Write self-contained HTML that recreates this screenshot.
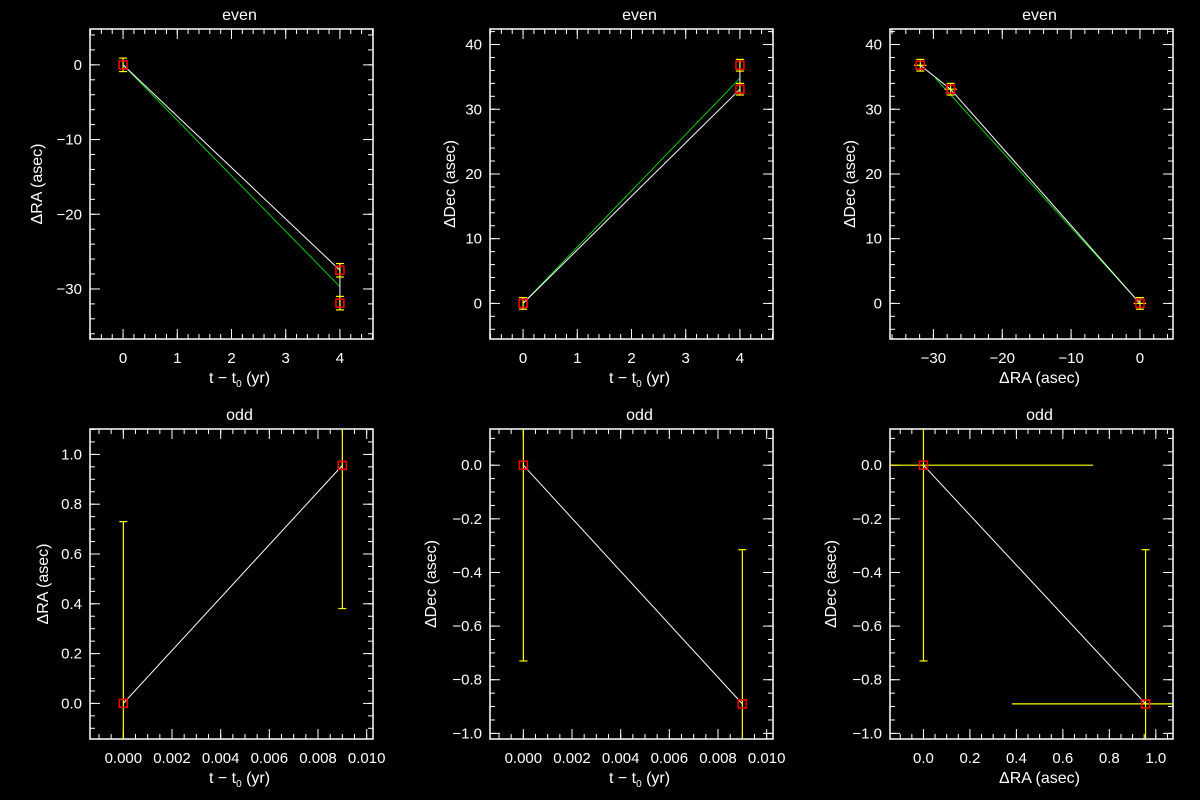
<!DOCTYPE html>
<html><head><meta charset="utf-8"><style>
html,body{margin:0;padding:0;background:#000;width:1200px;height:800px;overflow:hidden;}
svg{display:block;position:absolute;left:0;top:0;font-family:"Liberation Sans",sans-serif;}
text{fill:#fff;}
</style></head><body>
<svg id="c" width="1200" height="800"></svg>
<script>
// Panel data
const evenT = [0, 4, 4];
const evenRA = [0, -27.5, -31.9];
const evenDec = [0, 33.1, 36.8];
const evenErr = [0.9, 0.9, 0.9];
const evenFitEndRA = [-29.7];
const evenFitEndDec = [34.8];
const oddT = [0, 0.009];
const oddRA = [0, 0.956];
const oddDec = [0, -0.89];
const oddErrRA = [0.73, 0.575];
const oddErrDec = [0.73, 0.575];
const ticksTime = [0,1,2,3,4];
const ticksRA = [0,-10,-20,-30];
const ticksDec = [0,10,20,30,40];
const ticksRAx = [-30,-20,-10,0];
const ticksOddT = [0,0.002,0.004,0.006,0.008,0.010];
const ticksOddRA = [0,0.2,0.4,0.6,0.8,1.0];
const ticksOddDec = [0,-0.2,-0.4,-0.6,-0.8,-1.0];

const NS="http://www.w3.org/2000/svg";
const svg=document.getElementById('c');
function el(tag,attrs,parent){const e=document.createElementNS(NS,tag);for(const k in attrs)e.setAttribute(k,attrs[k]);(parent||svg).appendChild(e);return e;}

function panel(o){
  const g=el('g',{});
  
  
  const L=o.box[0],T=o.box[1],R=o.box[2],B=o.box[3];
  const sx=v=>L+(v-o.xr[0])/(o.xr[1]-o.xr[0])*(R-L);
  const sy=v=>B-(v-o.yr[0])/(o.yr[1]-o.yr[0])*(B-T);
  const clip='clip-'+o.name;
  const cp=el('clipPath',{id:clip},g);el('rect',{x:L,y:T,width:R-L,height:B-T},cp);
  const frame=el('rect',{x:L,y:T,width:R-L,height:B-T,fill:'none',stroke:'#fff','stroke-width':1.5},g);
  
  
  const eps=1e-9;
  for(let v=Math.ceil(o.xr[0]/o.xmin-eps)*o.xmin; v<=o.xr[1]+eps; v+=o.xmin){
    const x=sx(v);el('line',{x1:x,y1:B,x2:x,y2:B-5,stroke:'#fff'},g);el('line',{x1:x,y1:T,x2:x,y2:T+5,stroke:'#fff'},g);}
  for(let v=Math.ceil(o.yr[0]/o.ymin-eps)*o.ymin; v<=o.yr[1]+eps; v+=o.ymin){
    const y=sy(v);el('line',{x1:L,y1:y,x2:L+5,y2:y,stroke:'#fff'},g);el('line',{x1:R,y1:y,x2:R-5,y2:y,stroke:'#fff'},g);}
  o.xt.forEach(v=>{const x=sx(v);el('line',{x1:x,y1:B,x2:x,y2:B-10,stroke:'#fff'},g);el('line',{x1:x,y1:T,x2:x,y2:T+10,stroke:'#fff'},g);
    const t=el('text',{x:x,y:B+24,'text-anchor':'middle','font-size':15},g);t.textContent=o.xf(v).replace('-','\u2212');
    });
  o.yt.forEach(v=>{const y=sy(v);el('line',{x1:L,y1:y,x2:L+10,y2:y,stroke:'#fff'},g);el('line',{x1:R,y1:y,x2:R-10,y2:y,stroke:'#fff'},g);
    const t=el('text',{x:L-8,y:y+5,'text-anchor':'end','font-size':15},g);t.textContent=o.yf(v).replace('-','\u2212');
    });
  const tt=el('text',{x:(L+R)/2+8,y:T-9,'text-anchor':'middle','font-size':16},g);tt.textContent=o.title;
  
  const xt=el('text',{x:(L+R)/2+8,y:B+44,'text-anchor':'middle','font-size':16},g);xt.innerHTML=o.xlabel;
  
  const yx=o.ylx, yy=(T+B)/2;
  const yt=el('text',{x:yx,y:yy,'text-anchor':'middle','font-size':16,transform:`rotate(-90 ${yx} ${yy})`},g);yt.textContent=o.ylabel;
  
  const dg=el('g',{'clip-path':`url(#${clip})`},g);
  
  
  if(o.fit){const f=el('line',{x1:sx(o.fit[0]),y1:sy(o.fit[1]),x2:sx(o.fit[2]),y2:sy(o.fit[3]),stroke:'#00d000','stroke-width':1},dg);
    }
  const pts=o.xs.map((x,i)=>sx(x)+','+sy(o.ys[i])).join(' ');
  const pl=el('polyline',{points:pts,fill:'none',stroke:'#fff','stroke-width':1},dg);
  
  o.xs.forEach((x,i)=>{
    const px=sx(x),py=sy(o.ys[i]);
    if(o.ey){const e=o.ey[i];const y1=sy(o.ys[i]+e),y2=sy(o.ys[i]-e);
      const eb=el('line',{x1:px,y1:y1,x2:px,y2:y2,stroke:'#ff0','stroke-width':1.2},dg);
      
      el('line',{x1:px-4,y1:y1,x2:px+4,y2:y1,stroke:'#ff0','stroke-width':1.2},dg);el('line',{x1:px-4,y1:y2,x2:px+4,y2:y2,stroke:'#ff0','stroke-width':1.2},dg);}
    if(o.ex){const e=o.ex[i];
      const eb=el('line',{x1:sx(x-e),y1:py,x2:sx(x+e),y2:py,stroke:o.exColor||'#ff0','stroke-width':1.2},dg);
      }
    const m=el('rect',{x:px-4,y:py-4,width:8,height:8,fill:'none',stroke:'#f00','stroke-width':1.5},dg);
    
  });
}
const f0=v=>String(v), f1=v=>v.toFixed(1), f3=v=>v.toFixed(3);
const tlab='t \u2212 t<tspan font-size="10" dy="4">0</tspan><tspan dy="-4"> (yr)</tspan>';
panel({name:'panel-even-ra-time',box:[90,29,373,339],xr:[-0.61,4.61],yr:[-36.7,4.8],xmin:0.2,ymin:2,xt:ticksTime,yt:ticksRA,xf:f0,yf:f0,
  title:'even',xlabel:tlab,ylabel:'\u0394RA (asec)',ylx:42,xs:evenT,ys:evenRA,ey:evenErr,fit:[0,0,evenT[1],evenFitEndRA[0]]});
panel({name:'panel-even-dec-time',box:[490,29,773,339],xr:[-0.61,4.61],yr:[-5.5,42.4],xmin:0.2,ymin:2,xt:ticksTime,yt:ticksDec,xf:f0,yf:f0,
  title:'even',xlabel:tlab,ylabel:'\u0394Dec (asec)',ylx:455,xs:evenT,ys:evenDec,ey:evenErr,fit:[0,0,evenT[1],evenFitEndDec[0]]});
panel({name:'panel-even-dec-ra',box:[890,29,1173,339],xr:[-36.3,4.8],yr:[-5.5,42.4],xmin:2,ymin:2,xt:ticksRAx,yt:ticksDec,xf:f0,yf:f0,
  title:'even',xlabel:'\u0394RA (asec)',ylabel:'\u0394Dec (asec)',ylx:855,xs:evenRA,ys:evenDec,ey:evenErr,ex:evenErr,fit:[0,0,evenFitEndRA[0],evenFitEndDec[0]]});
panel({name:'panel-odd-ra-time',box:[90,429,373,739],xr:[-0.00137,0.01026],yr:[-0.143,1.102],xmin:0.0005,ymin:0.05,xt:ticksOddT,yt:ticksOddRA,xf:f3,yf:f1,
  title:'odd',xlabel:tlab,ylabel:'\u0394RA (asec)',ylx:48,xs:oddT,ys:oddRA,ey:oddErrRA});
panel({name:'panel-odd-dec-time',box:[490,429,773,739],xr:[-0.00137,0.01026],yr:[-1.021,0.135],xmin:0.0005,ymin:0.05,xt:ticksOddT,yt:ticksOddDec,xf:f3,yf:f1,
  title:'odd',xlabel:tlab,ylabel:'\u0394Dec (asec)',ylx:436,xs:oddT,ys:oddDec,ey:oddErrDec});
panel({name:'panel-odd-dec-ra',box:[890,429,1173,739],xr:[-0.144,1.074],yr:[-1.021,0.135],xmin:0.05,ymin:0.05,xt:ticksOddRA,yt:ticksOddDec,xf:f1,yf:f1,
  title:'odd',xlabel:'\u0394RA (asec)',ylabel:'\u0394Dec (asec)',ylx:836,xs:oddRA,ys:oddDec,ey:oddErrDec,ex:oddErrRA,exColor:'#ff0'});
</script>
</body></html>
